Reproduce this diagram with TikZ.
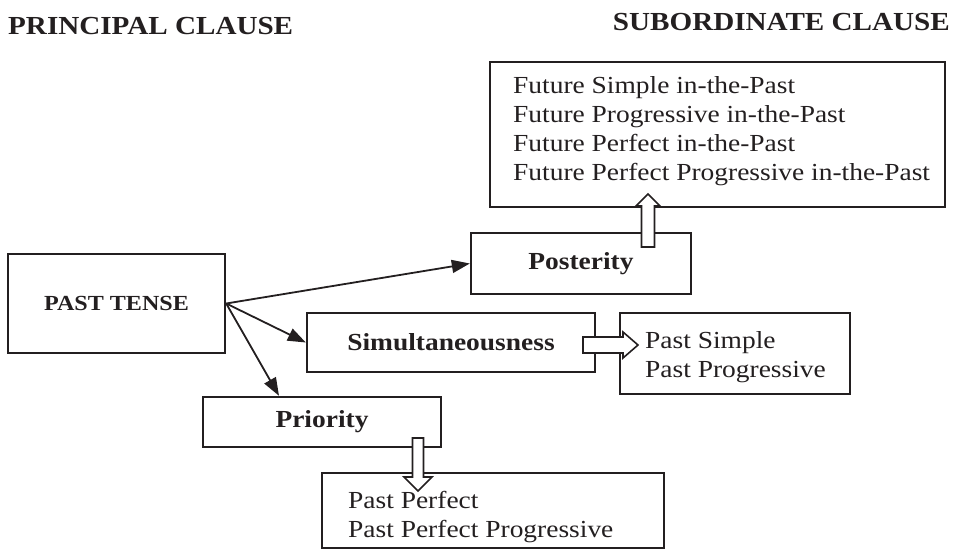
\documentclass[tikz,border=0pt]{standalone}
\usepackage{fontspec}
\setmainfont[FakeStretch=1.12]{Liberation Serif}
\usetikzlibrary{arrows.meta}
\definecolor{ink}{HTML}{231F20}
\begin{document}
\begin{tikzpicture}[x=1pt,y=-1pt,
  box/.style={draw=ink,line width=2.4pt,rectangle,inner sep=0pt},
  lbl/.style={font=\fontsize{24.5}{29}\selectfont\bfseries,text=ink},
  txt/.style={font=\fontsize{24.5}{29}\selectfont,text=ink,anchor=base west,inner sep=0pt},
  ttl/.style={font=\fontsize{26}{31}\selectfont\bfseries,text=ink,inner sep=0pt},
  conn/.style={draw=ink,line width=1.8pt,-{Triangle[length=18pt,width=13pt]}},
  hollow/.style={draw=ink,line width=1.6pt,fill=white,line join=miter}
]
\useasboundingbox (0,0) rectangle (959,557);

% titles
\node[ttl,anchor=base west] (tprin) at (8,34) {PRINCIPAL CLAUSE};
\node[ttl,anchor=base east] (tsub) at (950,30) {SUBORDINATE CLAUSE};

% boxes
\node[box,minimum width=455pt,minimum height=145pt] (future) at (717.5,134.5) {};
\node[box,lbl,minimum width=220pt,minimum height=61pt] (posterity) at (581,263.5) {Posterity};
\node[box,lbl,font=\fontsize{21.5}{26}\selectfont\bfseries,minimum width=217pt,minimum height=99pt] (past) at (116.5,303.5) {PAST TENSE};
\node[box,lbl,minimum width=288pt,minimum height=59pt] (simul) at (451,342.5) {Simultaneousness};
\node[box,minimum width=230pt,minimum height=81pt] (psimple) at (735,353.5) {};
\node[box,lbl,minimum width=238pt,minimum height=50pt] (priority) at (322,422) {Priority};
\node[box,minimum width=342pt,minimum height=75pt] (pperfect) at (493,510.5) {};

% texts in boxes
\node[txt] (f1) at (513,93) {Future Simple in-the-Past};
\node[txt] (f2) at (513,122) {Future Progressive in-the-Past};
\node[txt] (f3) at (513,151) {Future Perfect in-the-Past};
\node[txt] (f4) at (513,180) {Future Perfect Progressive in-the-Past};
\node[txt] (s1) at (645,348) {Past Simple};
\node[txt] (s2) at (645,377) {Past Progressive};
\node[txt] (p1) at (348,508) {Past Perfect};
\node[txt] (p2) at (348,537) {Past Perfect Progressive};

% connectors
\coordinate (origin) at (past.east);
\draw[conn] (origin) -- (posterity.west);
\draw[conn] (origin) -- (simul.west);
\draw[conn] (origin) -- ([xshift=-43pt]priority.north);

% hollow arrows
\draw[hollow] (641.5,247) -- (641.5,206) -- (636,206) -- (648,194) -- (660,206) -- (654.5,206) -- (654.5,247) -- cycle;
\draw[hollow] (583,337) -- (623,337) -- (623,332) -- (638,345) -- (623,358) -- (623,353) -- (583,353) -- cycle;
\draw[hollow] (412.5,438) -- (412.5,477) -- (404,477) -- (418,491) -- (432,477) -- (423.5,477) -- (423.5,438) -- cycle;
\end{tikzpicture}
\end{document}
